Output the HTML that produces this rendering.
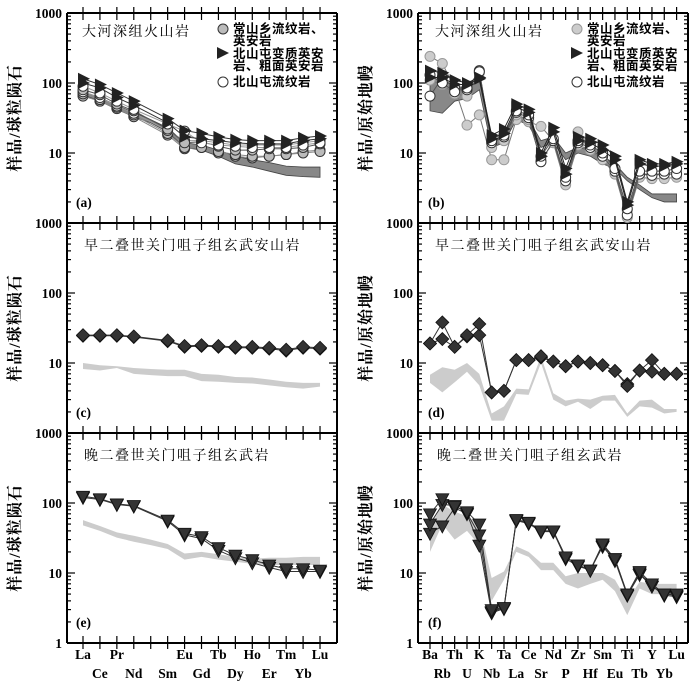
<!DOCTYPE html>
<html><head><meta charset="utf-8">
<style>
html,body{margin:0;padding:0;background:#fff;}
svg{display:block;}
text{font-family:"Liberation Serif","Noto Serif CJK SC",serif;}
.tl{font-weight:bold;font-size:13.5px;}
.cj{font-family:"Liberation Serif","Noto Serif CJK SC",serif;font-size:14px;letter-spacing:1.5px;}
.yt{font-family:"Liberation Serif","Noto Serif CJK SC",serif;font-size:16px;font-weight:bold;letter-spacing:1px;}
.lg{font-family:"Liberation Sans","Noto Sans CJK SC",sans-serif;font-size:12.5px;font-weight:bold;letter-spacing:0.5px;}
</style></head>
<body>
<svg id="fig" width="700" height="685" viewBox="0 0 700 685" xmlns="http://www.w3.org/2000/svg"></svg>
<script>
// ---------- DATA ----------
const reeElems = ["La","Ce","Pr","Nd","Pm","Sm","Eu","Gd","Tb","Dy","Ho","Er","Tm","Yb","Lu"];
const reeLabelsTop = ["La","Pr","Eu","Tb","Ho","Tm","Lu"];
const reeLabelsBot = ["Ce","Nd","Sm","Gd","Dy","Er","Yb"];
const spElems = ["Ba","Rb","Th","U","K","Nb","Ta","La","Ce","Sr","Nd","P","Zr","Hf","Sm","Eu","Ti","Tb","Y","Yb","Lu"];
const spLabelsTop = ["Ba","Th","K","Ta","Ce","Nd","Zr","Sm","Ti","Y","Lu"];
const spLabelsBot = ["Rb","U","Nb","La","Sr","P","Hf","Eu","Tb","Yb"];
const yTicks = [1000,100,10];

// panel a
const aBandUp = [75,62,48,38,30,23,14,13,11,9,8,7.3,6.5,6.3,6.3];
const aBandLo = [68,55,42,33,27,20,12,11,9,7,6.3,5.5,4.8,4.6,4.5];
const aTri1 = [115,95,72,55,null,31,21,19,17,15.5,15,15,15,16.5,17.5];
const aTri2 = [100,85,62,48,null,27,17,16,15,14,13.5,13.5,13.5,15,16];
const aGray1 = [80,68,50,40,null,22,14,14.5,12.5,11,11,11.5,11.5,12,13.5];
const aGray2 = [70,58,45,35,null,19,12,12,10.5,9.5,9,9,9.5,10,10.5];
const aGray3 = [65,55,43,33,null,18,11.5,12,10,9,8.5,9,9.5,10.5,11];
const aOpen1 = [90,72,55,42,null,26,20.5,14,13,12.5,12,12,12,13,14];
const aOpen2 = [75,62,47,37,null,21,15,15,14,13,13,13,13,14,15];
// panel b
const bBandUp = [120,110,90,85,110,15,18,35,30,15,17,10,12,11,9,7,4.5,3.5,2.6,2.6,2.6];
const bBandLo = [40,37,55,60,80,12,14,30,25,12,14,8,10,9,7,6,4,3,2.3,2,2];
const bTri1 = [150,140,110,100,120,18,22,50,42,10,23,6,17,16,13,9,2,8,7,7,7.5];
const bTri2 = [120,120,95,95,115,16,19,45,38,9,20,5,15,14,11,8,1.8,7,6.5,6.5,7];
const bGray1 = [240,190,85,25,35,8,8,30,28,24,15,4,20,12,10,6,1.5,5,5,5,5.5];
const bGray2 = [110,95,70,65,140,12,15,35,30,8,14,3.5,13,11,8,5,1.2,4.5,4.3,4.3,4.5];
const bOpen1 = [65,120,85,80,150,14,17,38,32,7.5,15,4,14,12,9,5.5,1.3,5,4.8,5,5];
const bOpen2 = [130,100,75,85,145,15,18,40,35,9,16,4.5,15,13,10,6,1.6,5.5,5.5,5.5,6];
// panel c
const cBandUp = [10,9.3,9,8.5,8.2,8,8,7,6.8,6.3,6.2,5.8,5.4,5.2,5.2];
const cBandLo = [8.2,7.8,8.5,7,6.7,6.5,6.5,5.5,5.4,5.2,5.1,4.8,4.5,4.3,4.6];
const cDia1 = [25,25,25,24,null,21,17.5,18,17.5,17,17,16.5,15.5,17,16.5];
const cDia2 = [24.5,24.5,24.5,23.5,null,20.5,17,17.5,17,16.5,16.5,16,15,16.5,16];
// panel d
const dBandUp = [6.8,8.7,8,10,7,1.9,2.4,4.3,4.2,12.5,3.7,2.9,3.1,3,3.4,3.5,1.9,2.9,3,2.2,2.2];
const dBandLo = [5.2,3.8,5.3,7.5,4.8,1.5,1.5,3.6,3.5,10,3,2.4,2.8,2.2,2.9,2.9,1.7,2.4,2.3,1.9,2];
const dDia1 = [19,38,17,25,36,3.8,4,11,11,12.5,10.5,9,10.5,10,9.3,7.7,4.7,7.8,11,7,7];
const dDia2 = [19,22,17,24,25,3.8,4,11,11,12,10.5,9,10.5,10,9.3,7.7,5,7.8,7.5,7,7];
// panel e
const eBandUp = [57,47,38,34,30,26,19,20,18.5,17,16,16.5,16.5,17,17];
const eBandLo = [48,40,32,28,25,22,15.5,17,15.5,14.5,13.5,13,13,13,13];
const eTri1 = [125,115,97,92,null,57,37,33,23,18,15.5,13,11.5,11.5,11];
const eTri2 = [120,112,95,90,null,55,35,31,21,16.5,14,12,10.5,10.5,10.5];
// panel f
const fBandUp = [45,95,75,65,50,8.5,10.5,24,20,14,14,9,10,10,10,8,4,7.5,7,7,7];
const fBandLo = [20,50,30,40,25,4,8,20,17,11,11,7,6,7,8,5.5,2.5,6,5,5,4.5];
const fTri1 = [70,115,90,75,50,3,3.2,58,53,40,40,17,13,11,26,16,5,10.5,7,5,5];
const fTri2 = [50,95,92,72,35,2.8,3.2,57,52,40,40,17,13,11,25,16,5,10,6.5,5,4.8];
const fTri3 = [37,47,85,70,25,2.7,3.1,56,51,39,39,16,12.5,11,24,15,4.8,9.5,6.5,4.8,4.6];

// ---------- RENDER ----------
const NS = "http://www.w3.org/2000/svg";
const svg = document.getElementById("fig");
function mk(tag, attrs, parent){
  const e = document.createElementNS(NS, tag);
  for (const k in attrs) e.setAttribute(k, attrs[k]);
  (parent||svg).appendChild(e);
  return e;
}
const rows = [13, 223, 433];
const DEC = 70;
const L = {x0:67, x1:337, first:83, step:16.93};
const R = {x0:418, x1:688, first:430, step:12.33};

function yScale(top, v){ return top + (3 - Math.log10(v))*DEC; }

function drawFrame(P, top, isLeft, withTop){
  const g = mk("g", {});
  
  
  const bot = top + 3*DEC;
  mk("line",{x1:P.x0,y1:top,x2:P.x0,y2:bot,stroke:"#000","stroke-width":2},g);
  mk("line",{x1:P.x1,y1:top,x2:P.x1,y2:bot,stroke:"#000","stroke-width":2},g);
  mk("line",{x1:P.x0,y1:top,x2:P.x1,y2:top,stroke:"#000","stroke-width":2},g);
  mk("line",{x1:P.x0,y1:bot,x2:P.x1,y2:bot,stroke:"#000","stroke-width":2},g);
  for (let d=0; d<3; d++){
    for (let m=1; m<=9; m++){
      const v = Math.pow(10,d)*m;
      const y = yScale(top, v);
      const len = m===1 ? 8 : 4;
      mk("line",{x1:P.x0,y1:y,x2:P.x0+len,y2:y,stroke:"#000","stroke-width":1.2},g);
      mk("line",{x1:P.x1,y1:y,x2:P.x1-len,y2:y,stroke:"#000","stroke-width":1.2},g);
    }
  }
  const n = isLeft ? reeElems.length : spElems.length;
  for (let i=0;i<n;i++){
    const x = P.first + i*P.step;
    mk("line",{x1:x,y1:top-(withTop?0:6),x2:x,y2:top+7,stroke:"#000","stroke-width":1.2},g);
    mk("line",{x1:x,y1:bot-7,x2:x,y2:bot+(withTop?6:0),stroke:"#000","stroke-width":1.2},g);
  }
  yTicks.forEach(v=>{
    const t = mk("text",{x:P.x0-5,y:yScale(top,v)+5,"text-anchor":"end",class:"tl"},g);
    
    
    t.textContent = v;
  });
  const cy = top + 1.5*DEC;
  const tx = P.x0 - 47;
  const t = mk("text",{x:tx,y:cy,"text-anchor":"middle",class:"yt",transform:`rotate(-90 ${tx} ${cy})`},g);
  
  
  t.textContent = isLeft ? "样品/球粒陨石" : "样品/原始地幔";
}

function xOf(P, i){ return P.first + i*P.step; }

function band(P, top, up, lo, fill, name){
  let pts = [];
  for (let i=0;i<up.length;i++) pts.push(xOf(P,i)+","+yScale(top,up[i]));
  for (let i=lo.length-1;i>=0;i--) pts.push(xOf(P,i)+","+yScale(top,lo[i]));
  const p = mk("polygon",{points:pts.join(" "),fill:fill,stroke:fill==="#888"?"#444":"none","stroke-width":0.8});
  
  
}

function marker(x,y,type,g){
  const s = 5.5;
  if (type==="grayc") mk("circle",{cx:x,cy:y,r:5,fill:"#bbb",stroke:"#333","stroke-width":1},g);
  else if (type==="lgray") mk("circle",{cx:x,cy:y,r:5,fill:"#ccc",stroke:"#999","stroke-width":1},g);
  else if (type==="open") mk("circle",{cx:x,cy:y,r:5,fill:"#fff",stroke:"#333","stroke-width":1},g);
  else if (type==="tri") mk("polygon",{points:`${x-5},${y-6} ${x+7},${y} ${x-5},${y+6}`,fill:"#222"},g);
  else if (type==="dtri") mk("polygon",{points:`${x-6.5},${y-5} ${x+6.5},${y-5} ${x},${y+7}`,fill:"#333",stroke:"#111","stroke-width":0.8},g);
  else if (type==="dia") mk("polygon",{points:`${x},${y-s-1} ${x+s+1},${y} ${x},${y+s+1} ${x-s-1},${y}`,fill:"#333",stroke:"#111","stroke-width":0.8},g);
}

function series(P, top, vals, type, name, lineColor){
  const g = mk("g",{});
  
  
  let d = "";
  vals.forEach((v,i)=>{
    if (v==null) return;
    d += (d? " L":"M") + xOf(P,i) + " " + yScale(top,v);
  });
  mk("path",{d:d,fill:"none",stroke:lineColor||"#333","stroke-width":1},g);
  vals.forEach((v,i)=>{ if (v!=null) marker(xOf(P,i), yScale(top,v), type, g); });
}

function txt(x,y,s,cls,name,extra){
  const t = mk("text",Object.assign({x:x,y:y,class:cls},extra||{}));
  
  
  t.textContent = s;
  return t;
}

drawFrame(L, rows[0], true, false);
drawFrame(L, rows[1], true, true);
drawFrame(L, rows[2], true, true);
drawFrame(R, rows[0], false, false);
drawFrame(R, rows[1], false, true);
drawFrame(R, rows[2], false, true);
txt(L.x0-5, rows[2]+3*DEC+5, "1", "tl", "y-tick-label-1", {"text-anchor":"end"});
txt(R.x0-5, rows[2]+3*DEC+5, "1", "tl", "y-tick-label-1", {"text-anchor":"end"});

band(L, rows[0], aBandUp, aBandLo, "#888", "a-reference-band");
series(L, rows[0], aGray3, "grayc", "a-gray-circle-3", "#888");
series(L, rows[0], aGray2, "grayc", "a-gray-circle-2", "#888");
series(L, rows[0], aOpen2, "open", "a-open-circle-2", "#999");
series(L, rows[0], aGray1, "grayc", "a-gray-circle-1", "#555");
series(L, rows[0], aOpen1, "open", "a-open-circle-1", "#999");
series(L, rows[0], aTri2, "tri", "a-triangle-2", "#333");
series(L, rows[0], aTri1, "tri", "a-triangle-1", "#333");
band(R, rows[0], bBandUp, bBandLo, "#888", "b-reference-band");
series(R, rows[0], bGray1, "lgray", "b-gray-circle-1", "#777");
series(R, rows[0], bGray2, "lgray", "b-gray-circle-2", "#777");
series(R, rows[0], bOpen1, "open", "b-open-circle-1", "#555");
series(R, rows[0], bOpen2, "open", "b-open-circle-2", "#555");
series(R, rows[0], bTri2, "tri", "b-triangle-2", "#222");
series(R, rows[0], bTri1, "tri", "b-triangle-1", "#222");
band(L, rows[1], cBandUp, cBandLo, "#ccc", "c-reference-band");
series(L, rows[1], cDia2, "dia", "c-diamond-2", "#333");
series(L, rows[1], cDia1, "dia", "c-diamond-1", "#333");
band(R, rows[1], dBandUp, dBandLo, "#ccc", "d-reference-band");
series(R, rows[1], dDia2, "dia", "d-diamond-2", "#333");
series(R, rows[1], dDia1, "dia", "d-diamond-1", "#333");
band(L, rows[2], eBandUp, eBandLo, "#ccc", "e-reference-band");
series(L, rows[2], eTri2, "dtri", "e-triangle-2", "#333");
series(L, rows[2], eTri1, "dtri", "e-triangle-1", "#333");
band(R, rows[2], fBandUp, fBandLo, "#ccc", "f-reference-band");
series(R, rows[2], fTri3, "dtri", "f-triangle-3", "#333");
series(R, rows[2], fTri2, "dtri", "f-triangle-2", "#333");
series(R, rows[2], fTri1, "dtri", "f-triangle-1", "#333");

txt(82, 36, "大河深组火山岩", "cj", "panel-a-title");
txt(435, 36, "大河深组火山岩", "cj", "panel-b-title");
txt(84, 250, "早二叠世关门咀子组玄武安山岩", "cj", "panel-c-title");
txt(435, 250, "早二叠世关门咀子组玄武安山岩", "cj", "panel-d-title");
txt(84, 460, "晚二叠世关门咀子组玄武岩", "cj", "panel-e-title");
txt(437, 460, "晚二叠世关门咀子组玄武岩", "cj", "panel-f-title");
txt(76, 207, "(a)", "tl", "panel-a-label");
txt(428, 207, "(b)", "tl", "panel-b-label");
txt(76, 417, "(c)", "tl", "panel-c-label");
txt(428, 417, "(d)", "tl", "panel-d-label");
txt(76, 627, "(e)", "tl", "panel-e-label");
txt(428, 627, "(f)", "tl", "panel-f-label");

function legend(x, sym1, sym2, sym3){
  const g = mk("g",{});
  
  
  marker(x, 29, sym1, g);
  marker(x-1, 53, sym2, g);
  marker(x, 82, sym3, g);
  const lines = [["常山乡流纹岩、",33],["英安岩",45],["北山屯变质英安",58],["岩、粗面英安岩",70],["北山屯流纹岩",86]];
  lines.forEach(l=>{
    const t = mk("text",{x:x+10,y:l[1],class:"lg"},g);
    
    
    t.textContent = l[0];
  });
}
legend(223, "grayc", "tri", "open");
legend(577, "lgray", "tri", "open");

function xlabels(P, elems, top, bot){
  top.forEach(s=>{
    const i = elems.indexOf(s);
    txt(xOf(P,i), 659, s, "tl", "x-tick-label", {"text-anchor":"middle"});
  });
  bot.forEach(s=>{
    const i = elems.lastIndexOf(s);
    txt(xOf(P,i), 678, s, "tl", "x-tick-label", {"text-anchor":"middle"});
  });
}
xlabels(L, reeElems, reeLabelsTop, reeLabelsBot);
xlabels(R, spElems, spLabelsTop, spLabelsBot);
</script>
</body></html>
